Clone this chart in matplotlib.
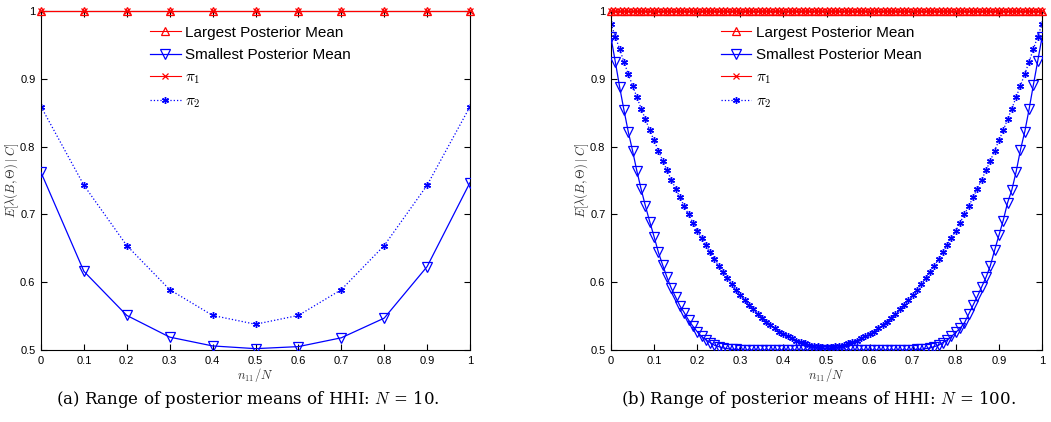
import numpy as np
import matplotlib
matplotlib.use("Agg")
import matplotlib.pyplot as plt

plt.rcParams['font.family'] = ['Liberation Sans', 'DejaVu Sans']
plt.rcParams['mathtext.fontset'] = 'cm'

# ---- panel (a): N = 10 ----
x_a = [0.0, 0.1, 0.2, 0.3, 0.4, 0.5, 0.6, 0.7, 0.8, 0.9, 1.0]
largest_a = [1.0] * 11
smallest_a = [0.762, 0.616, 0.551, 0.519, 0.506, 0.502, 0.505, 0.518, 0.547, 0.623, 0.747]
pi1_a = [1.0] * 11
pi2_a = [0.859, 0.743, 0.654, 0.589, 0.551, 0.538, 0.551, 0.589, 0.654, 0.743, 0.859]

# ---- panel (b): N = 100 ----
x_b = [i / 100 for i in range(101)]
largest_b = [1.0] * 101
pi1_b = [1.0] * 101
smallest_b = [
    0.961, 0.925, 0.888, 0.854, 0.822, 0.794, 0.764, 0.737, 0.712, 0.689,
    0.667, 0.644, 0.625, 0.607, 0.591, 0.578, 0.565, 0.555, 0.544, 0.535,
    0.527, 0.520, 0.515, 0.511, 0.507, 0.505, 0.503, 0.502, 0.501, 0.501,
    0.500, 0.500, 0.500, 0.500, 0.500, 0.500, 0.500, 0.500, 0.500, 0.500,
    0.500, 0.500, 0.500, 0.500, 0.500, 0.500, 0.500, 0.500, 0.500, 0.500,
    0.500, 0.500, 0.500, 0.500, 0.500, 0.500, 0.500, 0.500, 0.500, 0.500,
    0.500, 0.500, 0.500, 0.500, 0.500, 0.500, 0.500, 0.500, 0.500, 0.500,
    0.500, 0.501, 0.501, 0.502, 0.503, 0.505, 0.507, 0.511, 0.515, 0.520,
    0.526, 0.532, 0.540, 0.553, 0.566, 0.579, 0.593, 0.607, 0.624, 0.647,
    0.669, 0.691, 0.717, 0.736, 0.763, 0.795, 0.822, 0.855, 0.891, 0.926,
    0.961]
pi2_b = [
    0.981, 0.962, 0.944, 0.925, 0.907, 0.890, 0.873, 0.856, 0.840, 0.824,
    0.809, 0.794, 0.779, 0.765, 0.751, 0.738, 0.725, 0.712, 0.700, 0.688,
    0.676, 0.665, 0.655, 0.644, 0.634, 0.624, 0.615, 0.606, 0.597, 0.589,
    0.581, 0.574, 0.566, 0.560, 0.553, 0.547, 0.542, 0.537, 0.532, 0.527,
    0.524, 0.520, 0.517, 0.514, 0.512, 0.510, 0.508, 0.506, 0.506, 0.505,
    0.505, 0.505, 0.506, 0.506, 0.508, 0.510, 0.512, 0.514, 0.517, 0.520,
    0.524, 0.527, 0.532, 0.537, 0.542, 0.547, 0.553, 0.560, 0.566, 0.574,
    0.581, 0.589, 0.597, 0.606, 0.615, 0.624, 0.634, 0.644, 0.655, 0.665,
    0.676, 0.688, 0.700, 0.712, 0.725, 0.738, 0.751, 0.765, 0.779, 0.794,
    0.809, 0.824, 0.840, 0.856, 0.873, 0.890, 0.907, 0.925, 0.944, 0.962,
    0.981]

x_ticks = [0, 0.1, 0.2, 0.3, 0.4, 0.5, 0.6, 0.7, 0.8, 0.9, 1]
x_ticklabels = ['0', '0.1', '0.2', '0.3', '0.4', '0.5', '0.6', '0.7', '0.8', '0.9', '1']
y_ticks = [0.5, 0.6, 0.7, 0.8, 0.9, 1.0]
y_ticklabels = ['0.5', '0.6', '0.7', '0.8', '0.9', '1']
captions = ['(a) Range of posterior means of HHI: $N$ = 10.',
            '(b) Range of posterior means of HHI: $N$ = 100.']

fig = plt.figure(figsize=(10.51, 4.22), dpi=100)
ax_a = fig.add_axes([41 / 1051, 72 / 422, 429 / 1051, 339 / 422])
ax_b = fig.add_axes([611 / 1051, 72 / 422, 431 / 1051, 339 / 422])

panels = [(ax_a, x_a, largest_a, smallest_a, pi1_a, pi2_a),
          (ax_b, x_b, largest_b, smallest_b, pi1_b, pi2_b)]

for ax, x, lg, sm, p1, p2 in panels:
    ax.plot(x, lg, color='red', lw=0.8, marker='^', ms=6, mfc='none',
            mew=0.9, clip_on=False, zorder=3, label='Largest Posterior Mean')
    ax.plot(x, sm, color='blue', lw=0.9, marker='v', ms=6.5, mfc='none',
            mew=0.9, zorder=3, label='Smallest Posterior Mean')
    ax.plot(x, p1, color='red', lw=0.8, marker='x', ms=4, mew=0.9,
            clip_on=False, zorder=2, label=r'$\pi_1$')
    ax.plot(x, p2, color='blue', lw=0.9, ls=':', marker=(6, 2, 0), ms=5,
            mew=1.0, zorder=2, label=r'$\pi_2$')

    ax.set_xlim(0, 1)
    ax.set_ylim(0.5, 1.0)
    ax.set_xticks(x_ticks)
    ax.set_xticklabels(x_ticklabels)
    ax.set_yticks(y_ticks)
    ax.set_yticklabels(y_ticklabels)
    ax.tick_params(direction='in', top=True, right=True, labelsize=8,
                   length=4, width=0.8, pad=4)
    for s in ax.spines.values():
        s.set_linewidth(0.8)
    ax.set_xlabel(r'$n_{11}/N$', fontsize=9, labelpad=0, color='#333333')
    ax.set_ylabel(r'$E[\lambda(B,\Theta)\mid C]$', fontsize=9, color='#333333')
    ax.yaxis.set_label_coords(-0.047, 0.5)
    leg = ax.legend(loc='upper left', bbox_to_anchor=(0.24, 0.975),
                    frameon=False, fontsize=11, handlelength=2.0,
                    handletextpad=0.3, labelspacing=0.55, borderaxespad=0)

fig.text(248 / 1051, 22 / 422, captions[0], ha='center', va='center',
         fontsize=12, family='DejaVu Serif')
fig.text(818 / 1051, 22 / 422, captions[1], ha='center', va='center',
         fontsize=12, family='DejaVu Serif')

fig.savefig('out.png', dpi=100)
